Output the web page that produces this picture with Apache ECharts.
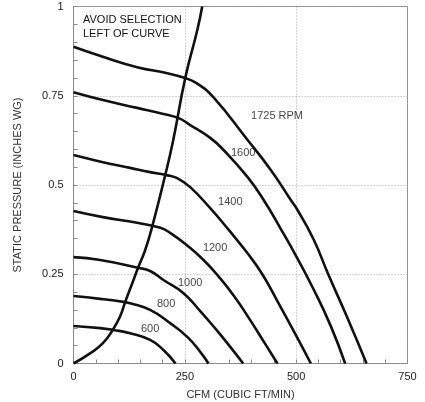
<!DOCTYPE html>
<html>
<head>
<meta charset="utf-8">
<script src="https://cdn.jsdelivr.net/npm/echarts@6/dist/echarts.min.js"></script>
<style>
html,body{margin:0;padding:0;background:#fff;overflow:hidden;}
#chart{width:425px;height:402px;}
</style>
</head>
<body>
<div id="chart"></div>
<script>
// Fan curves: [CFM, static pressure (in. WG)]
var rpm600 = [[0,0.105],[60,0.099],[89,0.094],[127,0.085],[172,0.066],[202,0.038],[229,0]];
var rpm800 = [[0,0.189],[60,0.181],[116,0.172],[127,0.169],[172,0.150],[217,0.113],[256,0.074],[285,0.032],[303,0]];
var rpm1000 = [[0,0.298],[60,0.290],[145,0.268],[172,0.259],[202,0.234],[247,0.197],[285,0.146],[315,0.103],[348,0.053],[381,0]];
var rpm1200 = [[0,0.427],[66,0.410],[143,0.394],[195,0.380],[217,0.366],[256,0.330],[292,0.290],[325,0.245],[360,0.190],[395,0.125],[428,0.060],[458,0]];
var rpm1400 = [[0,0.584],[66,0.564],[127,0.548],[172,0.536],[211,0.527],[233,0.519],[262,0.494],[307,0.435],[350,0.372],[390,0.310],[424,0.250],[460,0.170],[497,0.085],[533,0]];
var rpm1600 = [[0,0.760],[66,0.738],[143,0.716],[202,0.699],[235,0.688],[262,0.668],[307,0.632],[337,0.598],[391,0.522],[427,0.458],[465,0.378],[503,0.294],[539,0.208],[578,0.104],[610,0]];
var rpm1725 = [[0,0.887],[66,0.859],[143,0.830],[211,0.813],[247,0.801],[278,0.784],[314,0.746],[391,0.626],[443,0.542],[488,0.458],[503,0.430],[539,0.348],[572,0.250],[615,0.128],[658,0]];
var surgeCurve = [[0,0],[38,0.029],[66,0.057],[88,0.094],[104,0.130],[116,0.172],[132,0.225],[145,0.268],[161,0.318],[177,0.385],[206,0.528],[224,0.626],[251,0.800],[278,0.934],[289,1.0]];

// Curve labels: [CFM, pressure, text]
var curveLabels = [[457,0.693,'1725 RPM'],[381,0.590,'1600'],[352,0.452,'1400'],[318,0.324,'1200'],[262,0.225,'1000'],[208,0.167,'800'],[172,0.097,'600']];
var noteLines = ['AVOID SELECTION','LEFT OF CURVE'];

var xTicks = [0,250,500,750];
var yTicks = [0,0.25,0.5,0.75,1];

var chart = echarts.init(document.getElementById('chart'), null, {renderer:'canvas', width:425, height:402});
var lineStyle = {color:'#111', width:2.6};
function curve(d){
  return {type:'line', data:d, smooth:0.5, symbol:'none', lineStyle:lineStyle, clip:true, silent:true, z:3};
}
var font = 'Liberation Sans, Arial, sans-serif';
var option = {
  animation:false,
  backgroundColor:'#fff',
  grid:{left:73.5, right:17.5, top:6.5, bottom:38.5, show:true, borderColor:'#8a8a8a', borderWidth:1,
        containLabel:false, outerBoundsMode:'none'},
  xAxis:{
    type:'value', min:0, max:750, interval:250,
    name:'CFM (CUBIC FT/MIN)', nameLocation:'middle', nameGap:26,
    nameTextStyle:{fontFamily:font, fontSize:11, color:'#333'},
    axisLine:{show:true, lineStyle:{color:'#8a8a8a'}},
    axisTick:{show:true, inside:true, length:4, lineStyle:{color:'#8a8a8a'}},
    minorTick:{show:true, splitNumber:5, length:4, lineStyle:{color:'#8a8a8a'}},
    axisLabel:{fontFamily:font, fontSize:11, color:'#222', margin:8,
      formatter:function(v){return xTicks.indexOf(v)>=0?String(v):'';}},
    splitLine:{show:true, lineStyle:{color:'#a8a8a8', type:[1,2], width:1}}
  },
  yAxis:{
    type:'value', min:0, max:1, interval:0.25,
    name:'STATIC PRESSURE (INCHES WG)', nameLocation:'middle', nameGap:50, nameRotate:90,
    nameTextStyle:{fontFamily:font, fontSize:11, color:'#333'},
    axisLine:{show:true, lineStyle:{color:'#8a8a8a'}},
    axisTick:{show:true, inside:true, length:4, lineStyle:{color:'#8a8a8a'}},
    minorTick:{show:true, splitNumber:5, length:4, lineStyle:{color:'#8a8a8a'}},
    axisLabel:{fontFamily:font, fontSize:11, color:'#222', margin:10,
      formatter:function(v){return yTicks.indexOf(v)>=0?String(v):'';}},
    splitLine:{show:true, lineStyle:{color:'#a8a8a8', type:[1,2], width:1}}
  },
  graphic:[{
    type:'text', left:83, top:13,
    style:{text:noteLines.join('\n'), fontFamily:font, fontSize:11, fill:'#111', lineHeight:14}
  }],
  series:[
    curve(rpm600), curve(rpm800), curve(rpm1000), curve(rpm1200),
    curve(rpm1400), curve(rpm1600), curve(rpm1725), curve(surgeCurve),
    {type:'scatter', symbolSize:0, silent:true, z:4,
     data:curveLabels.map(function(l){return {value:[l[0],l[1]], name:l[2]};}),
     label:{show:true, position:'inside', formatter:function(p){return p.name;},
       fontFamily:font, fontSize:11, color:'#111'}}
  ]
};
chart.setOption(option);
</script>
</body>
</html>
